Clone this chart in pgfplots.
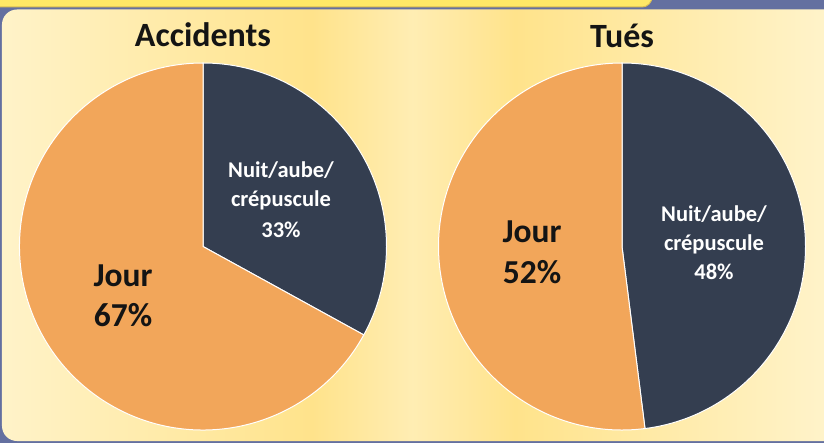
\documentclass[border=0pt]{standalone}
\usepackage{pgfplots}
\usepackage{pgfplotstable}
\pgfplotsset{compat=1.18}
\usepackage{fontspec}
\setmainfont{Carlito}
\definecolor{bgblue}{HTML}{6470A0}
\definecolor{darkslice}{HTML}{343E50}
\definecolor{orangeslice}{HTML}{F2A65A}
\definecolor{bgl}{HTML}{FFF3C9}
\definecolor{bgy}{HTML}{FFE38B}
\definecolor{bgm}{HTML}{FFEDB3}
\definecolor{baryellow}{HTML}{FFE866}
\definecolor{barline}{HTML}{D9BE55}
\definecolor{txt}{HTML}{141414}
\pgfdeclarehorizontalshading{panelshade}{100bp}{color(0bp)=(bgl); color(25bp)=(bgl); color(43.5bp)=(bgy); color(49.5bp)=(bgm); color(55.6bp)=(bgy); color(74bp)=(bgl); color(100bp)=(bgl)}

\pgfplotstableread{
chart nuit jour
Accidents 33 67
Tues 48 52
}\piedata
\pgfplotstablegetelem{0}{nuit}\of\piedata \let\accN\pgfplotsretval
\pgfplotstablegetelem{1}{nuit}\of\piedata \let\tuesN\pgfplotsretval
\pgfplotstablegetelem{0}{jour}\of\piedata \let\accJ\pgfplotsretval
\pgfplotstablegetelem{1}{jour}\of\piedata \let\tuesJ\pgfplotsretval
\pgfmathsetmacro\accEnd{90-3.6*\accN}
\pgfmathsetmacro\tuesEnd{90-3.6*\tuesN}

\begin{document}
\begin{tikzpicture}
\path[use as bounding box, clip] (0,0) rectangle (824pt,442pt);
\begin{axis}[
  width=824pt, height=442pt, scale only axis,
  xmin=0, xmax=824, ymin=0, ymax=442,
  hide axis, clip=false,
]
% background
\fill[bgblue] (axis cs:-10,-10) rectangle (axis cs:834,452);
\shade[shading=panelshade, rounded corners=15pt] (axis cs:2,1) rectangle (axis cs:840,432.5);
\fill[baryellow, draw=barline, line width=1pt, rounded corners=10pt] (axis cs:-20,435) rectangle (axis cs:652,470);
% Accidents pie
\filldraw[fill=darkslice, draw=white, line width=1pt] (axis cs:203,195.5) -- ++(90:183.5pt) arc[start angle=90, end angle=\accEnd, radius=183.5pt] -- cycle;
\filldraw[fill=orangeslice, draw=white, line width=1pt] (axis cs:203,195.5) -- ++(\accEnd:183.5pt) arc[start angle=\accEnd, end angle=-270, radius=183.5pt] -- cycle;
% Tues pie
\filldraw[fill=darkslice, draw=white, line width=1pt] (axis cs:622,195.5) -- ++(90:183.5pt) arc[start angle=90, end angle=\tuesEnd, radius=183.5pt] -- cycle;
\filldraw[fill=orangeslice, draw=white, line width=1pt] (axis cs:622,195.5) -- ++(\tuesEnd:183.5pt) arc[start angle=\tuesEnd, end angle=-270, radius=183.5pt] -- cycle;
% titles
\node[anchor=base, text=txt, font=\fontsize{34}{40}\selectfont\bfseries] at (axis cs:203,395) {Accidents};
\node[anchor=base, text=txt, font=\fontsize{34}{40}\selectfont\bfseries] at (axis cs:622,394) {Tués};
% labels left
\node[anchor=base, text=white, font=\fontsize{22.5}{26}\selectfont\bfseries] at (axis cs:281,264.7) {Nuit/aube/};
\node[anchor=base, text=white, font=\fontsize{22.5}{26}\selectfont\bfseries] at (axis cs:281,235.3) {crépuscule};
\node[anchor=base, text=white, font=\fontsize{22.5}{26}\selectfont\bfseries] at (axis cs:281,204.7) {\accN\%};
\node[anchor=base, text=txt, font=\fontsize{33.5}{40}\selectfont\bfseries] at (axis cs:123,156) {Jour};
\node[anchor=base, text=txt, font=\fontsize{33.5}{40}\selectfont\bfseries] at (axis cs:123,116) {\accJ\%};
% labels right
\node[anchor=base, text=white, font=\fontsize{22.5}{26}\selectfont\bfseries] at (axis cs:714,220) {Nuit/aube/};
\node[anchor=base, text=white, font=\fontsize{22.5}{26}\selectfont\bfseries] at (axis cs:714,191) {crépuscule};
\node[anchor=base, text=white, font=\fontsize{22.5}{26}\selectfont\bfseries] at (axis cs:714,162) {\tuesN\%};
\node[anchor=base, text=txt, font=\fontsize{33.5}{40}\selectfont\bfseries] at (axis cs:532,199) {Jour};
\node[anchor=base, text=txt, font=\fontsize{33.5}{40}\selectfont\bfseries] at (axis cs:532,158) {\tuesJ\%};
\end{axis}
\end{tikzpicture}
\end{document}
